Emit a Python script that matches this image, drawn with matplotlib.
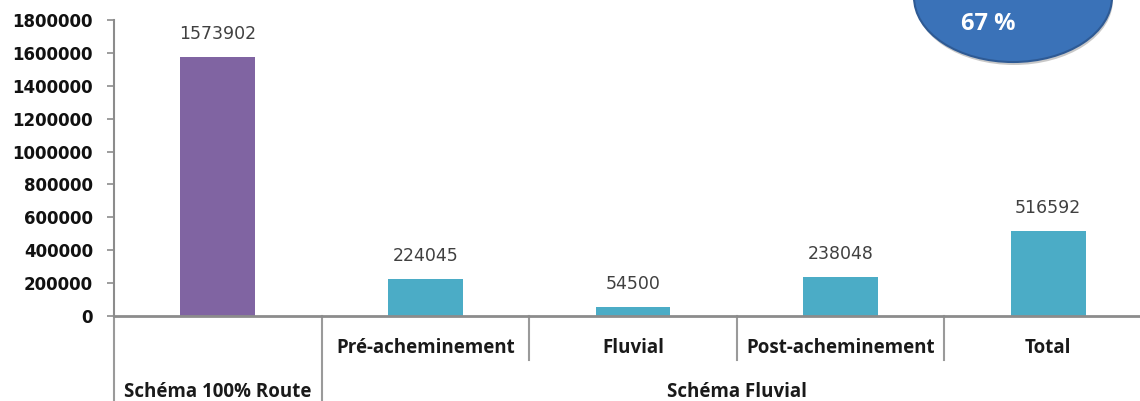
import matplotlib
matplotlib.use("Agg")
import matplotlib.pyplot as plt
from matplotlib.patches import Ellipse
from matplotlib.transforms import blended_transform_factory

categories = ["", "Pré-acheminement", "Fluvial", "Post-acheminement", "Total"]
groups = ["Schéma 100% Route", "Schéma Fluvial"]
group_spans = [(0, 0), (1, 4)]
values = [1573902, 224045, 54500, 238048, 516592]
colors = ["#8064A2", "#4BACC6", "#4BACC6", "#4BACC6", "#4BACC6"]
yticks = [0, 200000, 400000, 600000, 800000, 1000000, 1200000, 1400000, 1600000, 1800000]
badge_text = "67 %"

plt.rcParams['font.family'] = ['Open Sans', 'DejaVu Sans']

W, H = 1140, 401
fig = plt.figure(figsize=(W / 100, H / 100), dpi=100)
left, right, bottom, top = 114, 1152, 316, 20
ax = fig.add_axes([left / W, (H - bottom) / H, (right - left) / W, (bottom - top) / H])

x = list(range(len(values)))
ax.bar(x, values, width=0.36, color=colors, zorder=2)
for xi, v in zip(x, values):
    ax.annotate(str(v), (xi, v), xytext=(0, 10), textcoords="offset points",
                ha="center", va="bottom", fontsize=12.5, color="#404040",
                family="DejaVu Sans")

ax.set_xlim(-0.5, len(values) - 0.5)
ax.set_ylim(0, 1800000)
ax.set_yticks(yticks)
ax.set_yticklabels([str(t) for t in yticks], fontsize=12, fontweight="bold",
                   color="#111111", family="DejaVu Sans")
ax.set_xticks([])
for s in ["top", "right"]:
    ax.spines[s].set_visible(False)
ax.spines["left"].set_color("#8c8c8c")
ax.spines["left"].set_linewidth(1.5)
ax.spines["bottom"].set_color("#8c8c8c")
ax.spines["bottom"].set_linewidth(2)
ax.tick_params(axis="y", length=5, color="#8c8c8c", width=1.2, pad=10)

tr = blended_transform_factory(ax.transData, ax.transAxes)
ph = bottom - top
y_l1 = -(360 - bottom) / ph
y_l2 = -(H - bottom + 2) / ph
lab1 = -(348 - bottom) / ph
lab2 = -(392 - bottom) / ph

# level-1 labels
for xi, c in zip(x, categories):
    if c:
        ax.text(xi, lab1, c, transform=tr, ha="center", va="center",
                fontsize=13.5, fontweight="bold", color="#1a1a1a", clip_on=False)
# level-1 dividers inside groups
for g0, g1 in group_spans:
    for b in range(g0, g1):
        ax.plot([b + 0.5, b + 0.5], [0, y_l1], transform=tr, color="#9a9a9a",
                lw=1.5, clip_on=False)
# group dividers & labels
bounds = set()
for g, (g0, g1) in zip(groups, group_spans):
    bounds.add(g0 - 0.5)
    bounds.add(g1 + 0.5)
    ax.text((g0 + g1) / 2, lab2, g, transform=tr, ha="center", va="center",
            fontsize=13.5, fontweight="bold", color="#1a1a1a", clip_on=False)
for b in sorted(bounds):
    ax.plot([b, b], [0, y_l2], transform=tr, color="#9a9a9a", lw=1.5, clip_on=False)

# badge ellipse
fig_tr = fig.transFigure
ew, eh = 198 / W, 130 / H
ec = (1013 / W, (H - (-3)) / H)
shadow = Ellipse((ec[0] + 1 / W, ec[1] - 3 / H), ew, eh, transform=fig_tr,
                 facecolor="#c8c8c8", edgecolor="none", zorder=5)
fig.patches.append(shadow)
ell = Ellipse(ec, ew, eh, transform=fig_tr, facecolor="#3A72B8",
              edgecolor="#2E5A94", lw=1.5, zorder=6)
fig.patches.append(ell)
fig.text(988 / W, (H - 24) / H, badge_text, ha="center", va="center", fontsize=17,
         fontweight="bold", color="white", zorder=7)

fig.savefig("out.png", dpi=100)
